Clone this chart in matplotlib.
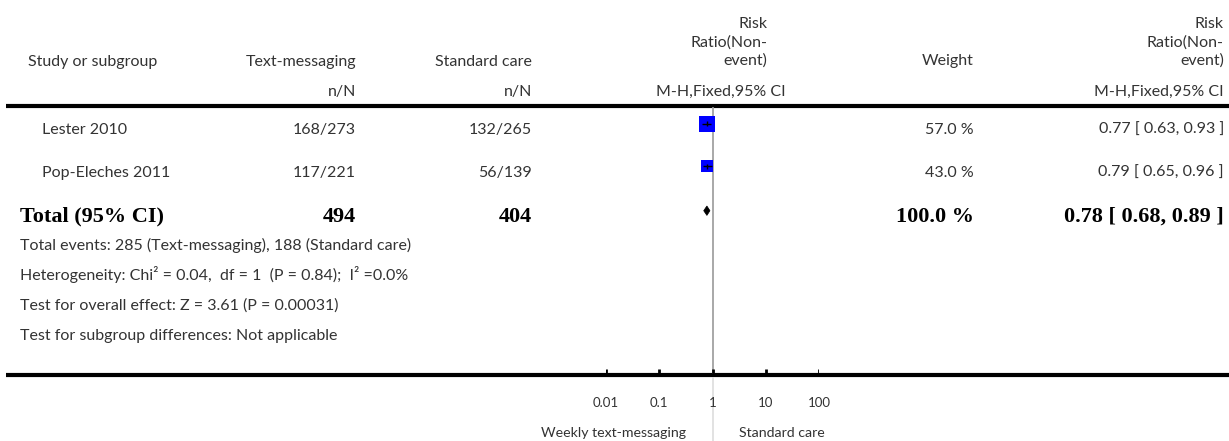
import matplotlib
matplotlib.use("Agg")
import matplotlib.pyplot as plt
from matplotlib.patches import Polygon

# ---- data ----
studies = ["Lester 2010", "Pop-Eleches 2011"]
txt_events = [168, 117]
txt_total = [273, 221]
std_events = [132, 56]
std_total = [265, 139]
weights = [57.0, 43.0]
rr = [0.77, 0.79]
rr_lo = [0.63, 0.65]
rr_hi = [0.93, 0.96]
pooled_rr = 0.78
pooled_lo = 0.68
pooled_hi = 0.89
tick_values = [0.01, 0.1, 1, 10, 100]
tick_labels = ["0.01", "0.1", "1", "10", "100"]
favours_left = "Weekly text-messaging"
favours_right = "Standard care"
footnotes = [
    "Total events: 285 (Text-messaging), 188 (Standard care)",
    "Heterogeneity: Chi\u00b2 = 0.04,  df = 1  (P = 0.84);  I\u00b2 =0.0%",
    "Test for overall effect: Z = 3.61 (P = 0.00031)",
    "Test for subgroup differences: Not applicable",
]

W, H, DPI = 1229, 441, 100
SANS = "Lato"
SERIF = "Liberation Serif"
TXT = "#333333"
FS = 11.5
FSB = 16

fig = plt.figure(figsize=(W / DPI, H / DPI), dpi=DPI)

# text layer in pixel units
tx = fig.add_axes([0, 0, 1, 1])
tx.set_xlim(0, W)
tx.set_ylim(H, 0)
tx.axis("off")

# forest panel: log scale from 0.01 to 100
x_lo_px, x_hi_px = 606, 819.3
fx = fig.add_axes([x_lo_px / W, 0, (x_hi_px - x_lo_px) / W, 1])
fx.set_xscale("log")
fx.set_xlim(tick_values[0], tick_values[-1])
fx.set_ylim(H, 0)
fx.axis("off")


def t(x, y, s, ha="left", bold=False, size=None, color=None):
    if bold:
        tx.text(x, y, s, ha=ha, va="baseline", fontsize=size or FSB,
                fontweight="bold", family=SERIF, color=color or "black")
    else:
        tx.text(x, y, s, ha=ha, va="baseline", fontsize=size or FS,
                family=SANS, color=color or TXT)


# column positions (right edges)
c_name, c_txt, c_std, c_plot, c_w, c_rr = 28, 356, 532, 767, 974, 1224

# header
t(c_name, 66, "Study or subgroup")
t(c_txt, 66, "Text-messaging", ha="right")
t(c_std, 66, "Standard care", ha="right")
t(c_txt, 96, "n/N", ha="right")
t(c_std, 96, "n/N", ha="right")
for xr in (c_plot, c_rr):
    t(xr, 28, "Risk", ha="right")
    t(xr, 46.5, "Ratio(Non-", ha="right")
    t(xr, 65, "event)", ha="right")
t(c_w, 65, "Weight", ha="right")
t(721, 96, "M-H,Fixed,95% CI", ha="center")
t(c_rr, 96, "M-H,Fixed,95% CI", ha="right")

# rules
tx.plot([6, W], [106, 106], color="black", lw=3, solid_capstyle="butt")
tx.plot([6, W], [375, 375], color="black", lw=3, solid_capstyle="butt")

# line of no effect
fx.vlines(1, 107, 374, color="#9a9a9a", lw=1.2)
fx.vlines(1, 377, H, color="#dddddd", lw=1.2)

# study rows
row_base = [134, 176.7]
for i, name in enumerate(studies):
    yb = row_base[i]
    t(42, yb, name)
    t(c_txt, yb, f"{txt_events[i]}/{txt_total[i]}", ha="right")
    t(c_std, yb, f"{std_events[i]}/{std_total[i]}", ha="right")
    t(c_w, yb, f"{weights[i]:.1f} %", ha="right")
    t(c_rr, yb, f"{rr[i]:.2f} [ {rr_lo[i]:.2f}, {rr_hi[i]:.2f} ]", ha="right")
    yc = yb - 10.5
    side_px = weights[i] * 0.29
    fx.plot([rr[i]], [yc], marker="s", markersize=side_px * 72 / DPI,
            markerfacecolor="#0000ff", markeredgewidth=0, linestyle="none",
            clip_on=False, zorder=3)
    fx.hlines(yc, rr_lo[i], rr_hi[i], color="black", lw=1, zorder=4)
    fx.vlines(rr[i], yc - 2.5, yc + 2.5, color="black", lw=1, zorder=4)

# pooled row
yb = 221.7
t(20, yb, "Total (95% CI)", bold=True)
t(c_txt, yb, f"{sum(txt_total)}", ha="right", bold=True)
t(c_std, yb, f"{sum(std_total)}", ha="right", bold=True)
t(c_w, yb, f"{sum(weights):.1f} %", ha="right", bold=True)
t(c_rr, yb, f"{pooled_rr:.2f} [ {pooled_lo:.2f}, {pooled_hi:.2f} ]",
  ha="right", bold=True)
yc = yb - 11
fx.add_patch(Polygon([(pooled_lo, yc), (pooled_rr, yc - 4.7),
                      (pooled_hi, yc), (pooled_rr, yc + 4.7)],
                     closed=True, facecolor="black", edgecolor="black",
                     lw=0.5, zorder=4))

# footnotes
for k, line in enumerate(footnotes):
    t(20, 250 + 30 * k, line)

# axis ticks and labels
fx.vlines(tick_values, 368.5, 374, color="black", lw=2)
for v, lab in zip(tick_values, tick_labels):
    fx.text(v, 407, lab, ha="center", va="baseline", fontsize=9.5,
            family=SANS, color=TXT)
fx.text(0.316, 437, favours_left, ha="right", va="baseline",
        fontsize=10.2, family=SANS, color=TXT)
fx.text(3.1, 437, favours_right, ha="left", va="baseline",
        fontsize=10.2, family=SANS, color=TXT)

fig.savefig("out.png", dpi=DPI, facecolor="white")
